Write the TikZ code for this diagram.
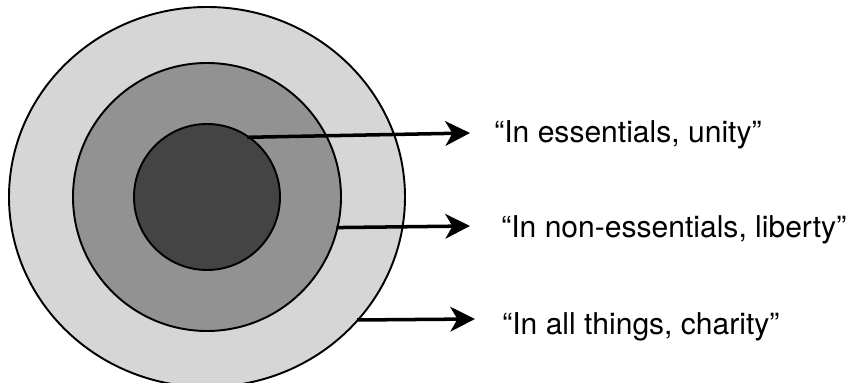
\documentclass[tikz,border=0pt]{standalone}
\usepackage{fontspec}
\setmainfont{TeX Gyre Heros}
\usetikzlibrary{arrows.meta}
\definecolor{ringout}{HTML}{D6D6D6}
\definecolor{ringmid}{HTML}{929292}
\definecolor{ringin}{HTML}{444444}
\begin{document}
\begin{tikzpicture}[line join=round, >={Stealth[length=14pt,width=14pt,inset=4pt]},
  ring/.style={draw=black, line width=1.1pt},
  pointer/.style={->, line width=2pt},
  saying/.style={anchor=base west, inner sep=0pt, font=\fontsize{17.1}{20}\selectfont}]
\useasboundingbox (-4.14,-3.72) rectangle (12.78,3.94);
\coordinate (O) at (0,0);
\filldraw[ring, fill=ringout] (O) ellipse (3.96 and 3.8);
\filldraw[ring, fill=ringmid] (O) circle (2.68);
\filldraw[ring, fill=ringin] (O) circle (1.46);
% where the arrows start and end
\coordinate (s1) at (56:1.44);
\coordinate (e1) at (5.26,1.28);
\coordinate (s2) at (-13.3:2.66);
\coordinate (e2) at (5.26,-0.58);
\coordinate (s3) at (3.0,-2.46);
\coordinate (e3) at (5.36,-2.44);
\draw[pointer] (s1) -- (e1);
\draw[pointer] (s2) -- (e2);
\draw[pointer] (s3) -- (e3);
\node[saying] (unity) at (5.74,1.08) {“In essentials, unity”};
\node[saying] (liberty) at (5.88,-0.82) {“In non-essentials, liberty”};
\node[saying] (charity) at (5.90,-2.76) {“In all things, charity”};
\end{tikzpicture}
\end{document}
